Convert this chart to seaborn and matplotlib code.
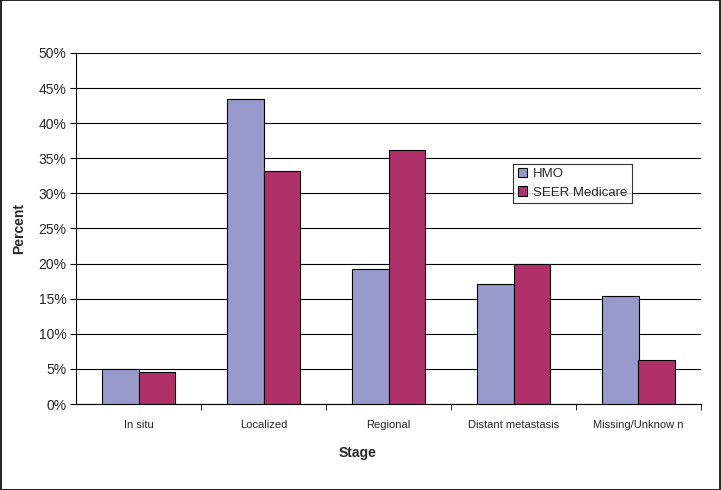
import matplotlib
matplotlib.use("Agg")
import matplotlib.pyplot as plt
import seaborn as sns
import pandas as pd
import numpy as np
from matplotlib.ticker import FixedLocator, PercentFormatter

stages = ["In situ", "Localized", "Regional", "Distant metastasis", "Missing/Unknow n"]
hmo = [5.0, 43.4, 19.2, 17.1, 15.4]
seer = [4.6, 33.2, 36.2, 19.9, 6.3]
series = ["HMO", "SEER Medicare"]
colors = ["#9999CC", "#B0306A"]

df = pd.DataFrame({
    "Stage": stages * 2,
    "Percent": hmo + seer,
    "Series": [series[0]] * len(stages) + [series[1]] * len(stages),
})

sns.set_style("white")
plt.rcParams['font.family'] = ['Liberation Sans', 'DejaVu Sans']

fig = plt.figure(figsize=(7.21, 4.90), dpi=100)
ax = fig.add_axes([76/721, 1-404/490, 625/721, 351/490])

sns.barplot(data=df, x="Stage", y="Percent", hue="Series", palette=colors,
            width=0.58, edgecolor="black", linewidth=0.8, ax=ax, zorder=3, saturation=1)

ax.set_ylim(0, 50)
ax.set_xlim(-0.5, len(stages) - 0.5)
ax.set_yticks(np.arange(0, 51, 5))
ax.yaxis.set_major_formatter(PercentFormatter(decimals=0))
ax.yaxis.grid(True, color="black", linewidth=0.8, zorder=0)
ax.set_axisbelow(True)
for s in ["top", "right"]:
    ax.spines[s].set_visible(False)
for s in ["left", "bottom"]:
    ax.spines[s].set_color("black")
    ax.spines[s].set_linewidth(0.8)

ax.tick_params(axis="y", which="major", left=True, length=4, direction="out",
               color="black", labelsize=10, pad=3)
ax.tick_params(axis="x", which="major", bottom=False, labelsize=8, pad=8)
ax.xaxis.set_minor_locator(FixedLocator(np.arange(0.5, len(stages) - 0.5 + 0.01, 1.0)))
ax.tick_params(axis="x", which="minor", bottom=True, length=4, direction="out", color="black")

ax.set_xlabel("Stage", fontsize=10, fontweight="bold")
ax.xaxis.set_label_coords(0.451, -0.12)
ax.set_ylabel("Percent", fontsize=10, fontweight="bold")
ax.yaxis.set_label_coords(-0.08, 0.5)

leg = ax.legend(loc="upper left", bbox_to_anchor=(0.70, 0.685), frameon=True,
                fancybox=False, edgecolor="black", fontsize=9.5, handlelength=0.7,
                handleheight=0.7, handletextpad=0.4, borderpad=0.35, labelspacing=0.45,
                borderaxespad=0)
leg.get_frame().set_linewidth(0.8)

fig.patches.append(plt.Rectangle((0.001, 0.001), 0.998, 0.998, transform=fig.transFigure,
                                 fill=False, edgecolor="black", linewidth=1.2))

fig.savefig("out.png", dpi=100)
